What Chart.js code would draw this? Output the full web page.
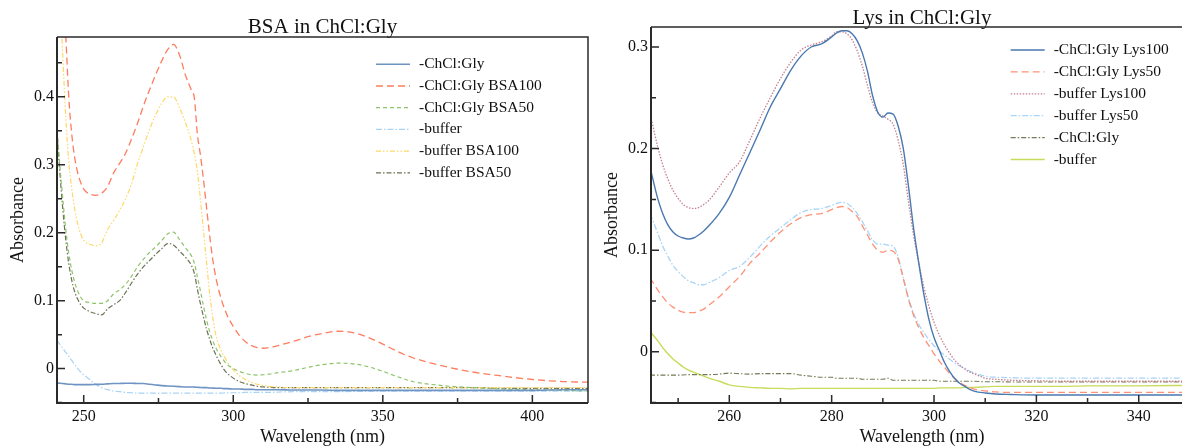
<!DOCTYPE html>
<html>
<head>
<meta charset="utf-8">
<script src="https://cdn.jsdelivr.net/npm/chart.js@4.4.1/dist/chart.umd.min.js"></script>
<style>
    html, body { margin: 0; padding: 0; background: #fff; overflow: hidden; }
    body { width: 1182px; height: 448px; position: relative; }
    .panel { position: absolute; top: 0; height: 448px; }
    #bsa-wrap { left: 0; width: 600px; }
    #lys-wrap { left: 590px; width: 612px; }
</style>
</head>
<body>
<div class="panel" id="bsa-wrap"><canvas id="bsa" width="600" height="448"></canvas></div>
<div class="panel" id="lys-wrap"><canvas id="lys" width="612" height="448"></canvas></div>
<script>
// ---- BSA panel ----
const wavelengthBSA = [241, 242, 243, 244, 245, 246, 247, 248, 249, 250,
    252, 254, 256, 258, 260, 262, 264, 266, 268, 270, 272, 274, 276, 278, 280, 282, 284, 286,
    287, 288, 289, 290, 291, 292, 293, 294, 295, 296, 297, 298,
    300, 302, 304, 306, 308, 310, 312,
    315, 320, 325, 330, 335, 340, 345, 350, 355, 360,
    370, 380, 390, 400, 410, 419];

const bsaLabels = ["-ChCl:Gly", "-ChCl:Gly BSA100", "-ChCl:Gly BSA50", "-buffer", "-buffer BSA100", "-buffer BSA50"];

const bsaChClGly = [-0.021, -0.0215, -0.022, -0.0225, -0.023, -0.023, -0.0235, -0.0235, -0.0235, -0.0235,
    -0.0235, -0.0232, -0.023, -0.0225, -0.022, -0.0218, -0.0215, -0.0215, -0.022, -0.022, -0.023, -0.024, -0.025, -0.0255, -0.026, -0.0265, -0.027, -0.027,
    -0.0272, -0.0275, -0.0278, -0.028, -0.028, -0.0285, -0.0285, -0.029, -0.029, -0.029, -0.0295, -0.0295,
    -0.03, -0.03, -0.0305, -0.0305, -0.031, -0.031, -0.031,
    -0.031, -0.0315, -0.0315, -0.0315, -0.032, -0.032, -0.032, -0.032, -0.032, -0.032,
    -0.032, -0.032, -0.032, -0.032, -0.031, -0.031];

const bsaChClGly100 = [0.70, 0.63, 0.56, 0.49, 0.40, 0.345, 0.31, 0.288, 0.274, 0.264,
    0.257, 0.255, 0.258, 0.268, 0.288, 0.302, 0.317, 0.338, 0.361, 0.387, 0.41, 0.432, 0.452, 0.469, 0.477, 0.462, 0.432, 0.41,
    0.398, 0.345, 0.315, 0.28, 0.24, 0.2, 0.165, 0.138, 0.118, 0.102, 0.089, 0.078,
    0.062, 0.049, 0.04, 0.034, 0.031, 0.030, 0.031,
    0.034, 0.040, 0.047, 0.052, 0.055, 0.053, 0.046, 0.036, 0.025, 0.016,
    0.004, -0.005, -0.011, -0.016, -0.019, -0.020];

const bsaChClGly50 = [0.36, 0.30, 0.25, 0.205, 0.17, 0.145, 0.127, 0.114, 0.105, 0.10,
    0.097, 0.096, 0.096, 0.10, 0.11, 0.116, 0.124, 0.136, 0.15, 0.161, 0.171, 0.179, 0.188, 0.198, 0.201, 0.19, 0.178, 0.166,
    0.155, 0.135, 0.115, 0.093, 0.073, 0.056, 0.043, 0.032, 0.024, 0.017, 0.011, 0.006,
    0.0, -0.004, -0.007, -0.009, -0.0095, -0.009, -0.008,
    -0.006, -0.003, 0.002, 0.006, 0.008, 0.007, 0.003, -0.004, -0.012, -0.019,
    -0.025, -0.028, -0.030, -0.031, -0.032, -0.033];

const bsaBuffer = [0.042, 0.036, 0.030, 0.024, 0.018, 0.012, 0.006, 0.0, -0.005, -0.009,
    -0.016, -0.023, -0.028, -0.031, -0.033, -0.034, -0.035, -0.0355, -0.036, -0.036, -0.036, -0.036, -0.036, -0.036, -0.036, -0.036, -0.036, -0.036,
    -0.036, -0.036, -0.036, -0.036, -0.036, -0.036, -0.036, -0.036, -0.036, -0.036, -0.0358, -0.0358,
    -0.0355, -0.0355, -0.035, -0.035, -0.035, -0.035, -0.035,
    -0.0345, -0.034, -0.034, -0.034, -0.034, -0.0335, -0.0335, -0.033, -0.033, -0.033,
    -0.033, -0.033, -0.033, -0.033, -0.033, -0.033];

const bsaBuffer100 = [0.65, 0.56, 0.46, 0.37, 0.305, 0.265, 0.235, 0.213, 0.198, 0.189,
    0.183, 0.181, 0.185, 0.205, 0.218, 0.233, 0.25, 0.272, 0.302, 0.327, 0.352, 0.373, 0.39, 0.40, 0.40, 0.384, 0.362, 0.335,
    0.316, 0.29, 0.25, 0.205, 0.16, 0.115, 0.08, 0.053, 0.037, 0.026, 0.018, 0.01,
    -0.002, -0.01, -0.016, -0.02, -0.023, -0.025, -0.026,
    -0.027, -0.028, -0.028, -0.028, -0.028, -0.028, -0.028, -0.028, -0.028, -0.028,
    -0.028, -0.028, -0.028, -0.028, -0.028, -0.028];

const bsaBuffer50 = [0.35, 0.29, 0.235, 0.19, 0.155, 0.13, 0.113, 0.102, 0.094, 0.089,
    0.084, 0.081, 0.079, 0.088, 0.094, 0.10, 0.112, 0.126, 0.139, 0.15, 0.159, 0.168, 0.176, 0.184, 0.182, 0.173, 0.164, 0.152,
    0.14, 0.117, 0.096, 0.077, 0.059, 0.045, 0.032, 0.022, 0.013, 0.005, -0.002, -0.007,
    -0.014, -0.019, -0.022, -0.024, -0.026, -0.027, -0.0275,
    -0.028, -0.028, -0.028, -0.028, -0.028, -0.028, -0.028, -0.028, -0.028, -0.028,
    -0.028, -0.028, -0.029, -0.029, -0.029, -0.029];

const bsaTicksX = [250, 300, 350, 400];
const bsaTicksY = [0, 0.1, 0.2, 0.3, 0.4];

// ---- Lys panel ----
const wavelengthLys = [244.5, 246, 247, 248, 249, 250, 251, 252, 253, 254, 255, 256,
    258, 260, 262, 264, 266, 268, 270, 272, 274, 276, 278, 280,
    281, 282, 283, 284, 285, 286, 287, 288, 289, 290, 291, 292, 293, 294, 295, 296, 297, 298, 299, 300,
    301, 302, 303, 304, 305, 306, 307, 308,
    310, 312, 315, 320, 325, 330, 340, 351];

const lysLabels = ["-ChCl:Gly Lys100", "-ChCl:Gly Lys50", "-buffer Lys100", "-buffer Lys50", "-ChCl:Gly", "-buffer"];

const lysChClGly100 = [0.182, 0.151, 0.136, 0.125, 0.118, 0.114, 0.112, 0.111, 0.112, 0.115, 0.119, 0.124,
    0.136, 0.152, 0.174, 0.196, 0.218, 0.241, 0.259, 0.277, 0.291, 0.300, 0.303, 0.310,
    0.314, 0.316, 0.316, 0.313, 0.306, 0.294, 0.276, 0.252, 0.236, 0.231, 0.235, 0.234, 0.222, 0.20, 0.163, 0.122, 0.088, 0.057, 0.032, 0.014,
    0.002, -0.01, -0.019, -0.026, -0.031, -0.034, -0.037, -0.039,
    -0.0405, -0.0415, -0.042, -0.0425, -0.0425, -0.0425, -0.0425, -0.0425];

const lysChClGly50 = [0.073, 0.061, 0.054, 0.048, 0.044, 0.041, 0.039, 0.0385, 0.0385, 0.040, 0.042, 0.046,
    0.054, 0.064, 0.074, 0.087, 0.097, 0.108, 0.118, 0.126, 0.132, 0.135, 0.136, 0.140,
    0.142, 0.143, 0.142, 0.138, 0.133, 0.124, 0.115, 0.106, 0.10, 0.098, 0.10, 0.099, 0.091, 0.072, 0.052, 0.036, 0.024, 0.014, 0.006, -0.002,
    -0.009, -0.015, -0.021, -0.026, -0.030, -0.033, -0.035, -0.037,
    -0.0385, -0.0395, -0.040, -0.040, -0.040, -0.040, -0.040, -0.040];

const lysBuffer100 = [0.235, 0.202, 0.184, 0.17, 0.159, 0.151, 0.145, 0.142, 0.141, 0.142, 0.145, 0.149,
    0.162, 0.176, 0.187, 0.208, 0.23, 0.25, 0.269, 0.285, 0.297, 0.302, 0.305, 0.311,
    0.315, 0.315, 0.313, 0.307, 0.296, 0.281, 0.262, 0.245, 0.235, 0.232, 0.229, 0.224, 0.208, 0.184, 0.148, 0.115, 0.088, 0.064, 0.045, 0.029,
    0.017, 0.007, -0.001, -0.008, -0.013, -0.017, -0.020, -0.022,
    -0.026, -0.027, -0.028, -0.0285, -0.029, -0.029, -0.029, -0.029];

const lysBuffer50 = [0.136, 0.117, 0.104, 0.094, 0.085, 0.079, 0.074, 0.070, 0.068, 0.066, 0.066, 0.068,
    0.073, 0.080, 0.084, 0.093, 0.104, 0.114, 0.122, 0.130, 0.137, 0.140, 0.141, 0.144,
    0.146, 0.147, 0.146, 0.142, 0.136, 0.128, 0.119, 0.110, 0.106, 0.106, 0.105, 0.104, 0.093, 0.073, 0.053, 0.038, 0.027, 0.019, 0.012, 0.006,
    0.001, -0.003, -0.007, -0.011, -0.014, -0.016, -0.019, -0.021,
    -0.024, -0.025, -0.0255, -0.026, -0.026, -0.026, -0.026, -0.026];

const lysChClGly = [-0.023, -0.023, -0.023, -0.023, -0.023, -0.023, -0.0228, -0.0225, -0.0225, -0.0225, -0.0225, -0.0225,
    -0.022, -0.021, -0.0215, -0.022, -0.0215, -0.0215, -0.0215, -0.0215, -0.023, -0.024, -0.025, -0.025,
    -0.026, -0.026, -0.026, -0.026, -0.026, -0.027, -0.027, -0.027, -0.027, -0.027, -0.026, -0.028, -0.028, -0.028, -0.028, -0.028, -0.028, -0.028, -0.028, -0.028,
    -0.029, -0.029, -0.029, -0.029, -0.029, -0.029, -0.029, -0.029,
    -0.0295, -0.0295, -0.0297, -0.0297, -0.0297, -0.0297, -0.0297, -0.0297];

const lysBuffer = [0.020, 0.011, 0.004, -0.002, -0.007, -0.011, -0.015, -0.018, -0.020, -0.022, -0.024, -0.026,
    -0.029, -0.0325, -0.034, -0.035, -0.0355, -0.036, -0.036, -0.0365, -0.036, -0.036, -0.036, -0.036,
    -0.036, -0.036, -0.036, -0.036, -0.036, -0.036, -0.036, -0.036, -0.036, -0.036, -0.036, -0.036, -0.036, -0.036, -0.036, -0.036, -0.036, -0.036, -0.036, -0.036,
    -0.0355, -0.0355, -0.0355, -0.0355, -0.0355, -0.035, -0.035, -0.035,
    -0.0345, -0.034, -0.034, -0.034, -0.034, -0.0335, -0.0335, -0.033];

const lysTicksX = [260, 280, 300, 320, 340];
const lysTicksY = [0, 0.1, 0.2, 0.3];

const serif = "'Liberation Serif', 'Times New Roman', serif";

function toPoints(xs, ys) {
    return xs.map((x, i) => ({ x: x, y: ys[i] }));
}

function makeSeries(label, xs, ys, color, dash, width) {
    return {
        label: label,
        data: toPoints(xs, ys),
        borderColor: color,
        backgroundColor: color,
        borderDash: dash,
        borderWidth: width,
        pointRadius: 0,
        cubicInterpolationMode: "monotone",
        fill: false,
    };
}

// title over the plot, inward ticks, frame and a line-sample legend inside the plot
const framePlugin = {
    id: "frameKey",
    afterDraw(chart, args, opts) {
        const ctx = chart.ctx;
        const a = chart.chartArea;
        const sx = chart.scales.x;
        const sy = chart.scales.y;
        ctx.save();

        ctx.fillStyle = "#111";
        ctx.font = "21px " + serif;
        ctx.textAlign = "center";
        ctx.textBaseline = "alphabetic";
        ctx.fillText(opts.title, (a.left + a.right) / 2, opts.titleY);

        ctx.strokeStyle = "#2a2a2a";
        ctx.lineWidth = 1.5;
        markTicks(ctx, sx, opts.xMajor, true, a);
        markTicks(ctx, sy, opts.yMajor, false, a);

        ctx.lineWidth = 2;
        ctx.beginPath();
        ctx.moveTo(a.left, a.top);
        ctx.lineTo(a.left, a.bottom);
        ctx.lineTo(a.right, a.bottom);
        ctx.stroke();
        ctx.lineWidth = 1.5;
        ctx.beginPath();
        ctx.moveTo(a.left, a.top);
        ctx.lineTo(a.right, a.top);
        ctx.lineTo(a.right, a.bottom);
        ctx.stroke();

        ctx.font = "15.5px " + serif;
        ctx.textBaseline = "middle";
        ctx.textAlign = "left";
        chart.data.datasets.forEach((ds, i) => {
            const y = opts.keyY + i * opts.keyGap;
            ctx.save();
            ctx.strokeStyle = ds.borderColor;
            ctx.lineWidth = ds.borderWidth;
            ctx.setLineDash(ds.borderDash || []);
            ctx.beginPath();
            ctx.moveTo(opts.keyX, y);
            ctx.lineTo(opts.keyX + 34, y);
            ctx.stroke();
            ctx.restore();
            ctx.fillStyle = "#111";
            ctx.fillText(ds.label, opts.keyX + 43, y);
        });
        ctx.restore();
    },
};

function markTicks(ctx, scale, majors, horizontal, a) {
    const half = (majors[1] - majors[0]) / 2;
    let v = majors[0] - half * Math.floor((majors[0] - scale.min) / half + 1e-6);
    ctx.beginPath();
    for (; v <= scale.max + 1e-9; v += half) {
        const major = majors.some(m => Math.abs(m - v) < half / 10);
        const len = major ? 8 : 5;
        const p = scale.getPixelForValue(v);
        if (horizontal) {
            ctx.moveTo(p, a.bottom);
            ctx.lineTo(p, a.bottom - len);
        } else {
            ctx.moveTo(a.left, p);
            ctx.lineTo(a.left + len, p);
        }
    }
    ctx.stroke();
}

function buildChart(id, cfg) {
    return new Chart(document.getElementById(id), {
        type: "line",
        data: { datasets: cfg.datasets },
        plugins: [framePlugin],
        options: {
            responsive: false,
            animation: false,
            layout: { padding: { left: 0, right: cfg.padRight, top: cfg.padTop, bottom: 0 } },
            plugins: {
                legend: { display: false },
                tooltip: { enabled: false },
                title: { display: false },
                frameKey: {
                    title: cfg.title,
                    titleY: cfg.titleY,
                    xMajor: cfg.ticksX,
                    yMajor: cfg.ticksY,
                    keyX: cfg.keyX,
                    keyY: cfg.keyY,
                    keyGap: cfg.keyGap,
                },
            },
            scales: {
                x: {
                    type: "linear",
                    min: cfg.xMin,
                    max: cfg.xMax,
                    grid: { display: false, drawTicks: false, tickLength: 0 },
                    border: { display: false },
                    afterFit: s => { s.height = 45; },
                    afterBuildTicks: s => { s.ticks = cfg.ticksX.map(v => ({ value: v })); },
                    ticks: {
                        color: "#111",
                        padding: 4,
                        maxRotation: 0,
                        font: { family: serif, size: 16 },
                    },
                    title: {
                        display: true,
                        text: "Wavelength (nm)",
                        color: "#111",
                        font: { family: serif, size: 18 },
                        padding: { top: 0, bottom: 0 },
                    },
                },
                y: {
                    min: cfg.yMin,
                    max: cfg.yMax,
                    grid: { display: false, drawTicks: false, tickLength: 0 },
                    border: { display: false },
                    afterFit: s => { s.width = cfg.yWidth; },
                    afterBuildTicks: s => { s.ticks = cfg.ticksY.map(v => ({ value: v })); },
                    ticks: {
                        color: "#111",
                        padding: 3,
                        font: { family: serif, size: 16 },
                        callback: v => (v === 0 ? "0" : v.toFixed(1)),
                    },
                    title: {
                        display: true,
                        text: "Absorbance",
                        color: "#111",
                        font: { family: serif, size: 18 },
                        padding: { top: cfg.yTitlePad, bottom: 0 },
                    },
                },
            },
        },
    });
}

buildChart("bsa", {
    title: "BSA in ChCl:Gly",
    titleY: 33,
    padTop: 37,
    padRight: 12,
    yWidth: 57,
    yTitlePad: 7,
    xMin: 241.07, xMax: 418.6,
    yMin: -0.0506, yMax: 0.488,
    ticksX: bsaTicksX,
    ticksY: bsaTicksY,
    keyX: 376, keyY: 64.3, keyGap: 21.7,
    datasets: [
        makeSeries(bsaLabels[0], wavelengthBSA, bsaChClGly, "#6f93c2", [], 1.6),
        makeSeries(bsaLabels[1], wavelengthBSA, bsaChClGly100, "#ff7d5e", [7, 4], 1.3),
        makeSeries(bsaLabels[2], wavelengthBSA, bsaChClGly50, "#8cc46a", [4, 3], 1.2),
        makeSeries(bsaLabels[3], wavelengthBSA, bsaBuffer, "#a9d4f5", [6, 2, 1.5, 2], 1.2),
        makeSeries(bsaLabels[4], wavelengthBSA, bsaBuffer100, "#ffd766", [5, 2, 1.5, 2, 1.5, 2], 1.2),
        makeSeries(bsaLabels[5], wavelengthBSA, bsaBuffer50, "#6b7352", [5, 2, 1.5, 2], 1.2),
    ],
});

buildChart("lys", {
    title: "Lys in ChCl:Gly",
    titleY: 23.5,
    padTop: 27,
    padRight: 9,
    yWidth: 61,
    yTitlePad: 11,
    xMin: 244.7, xMax: 350.6,
    yMin: -0.0504, yMax: 0.3197,
    ticksX: lysTicksX,
    ticksY: lysTicksY,
    keyX: 420.7, keyY: 50, keyGap: 21.9,
    datasets: [
        makeSeries(lysLabels[0], wavelengthLys, lysChClGly100, "#4a78b0", [], 1.4),
        makeSeries(lysLabels[1], wavelengthLys, lysChClGly50, "#ff9176", [7, 4], 1.3),
        makeSeries(lysLabels[2], wavelengthLys, lysBuffer100, "#c4808f", [1.5, 1.5], 1.3),
        makeSeries(lysLabels[3], wavelengthLys, lysBuffer50, "#a8d4f7", [6, 2, 1.5, 2], 1.3),
        makeSeries(lysLabels[4], wavelengthLys, lysChClGly, "#747a55", [5, 2, 1.5, 2], 1.1),
        makeSeries(lysLabels[5], wavelengthLys, lysBuffer, "#c6dc5a", [], 1.4),
    ],
});
</script>
</body>
</html>
